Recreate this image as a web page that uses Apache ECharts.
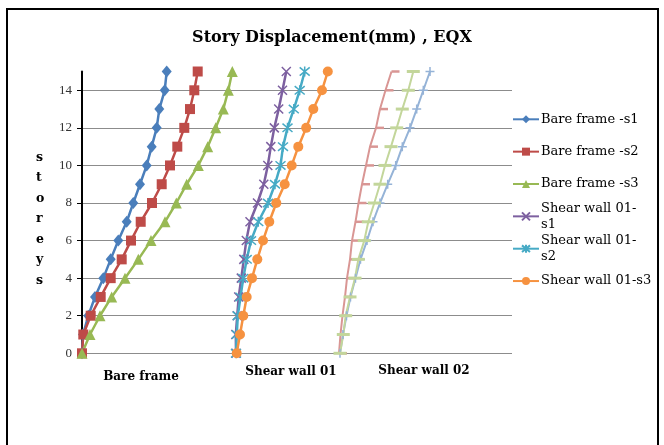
<!DOCTYPE html>
<html>
<head>
<meta charset="utf-8">
<script src="https://cdn.jsdelivr.net/npm/echarts@6/dist/echarts.min.js"></script>
<style>
  html, body { margin: 0; padding: 0; background: #fff; }
  #chart { width: 664px; height: 445px; }
</style>
</head>
<body>
<div id="chart"></div>
<script>
// Storey levels (0 = base, 15 = roof)
const storeys = [0, 1, 2, 3, 4, 5, 6, 7, 8, 9, 10, 11, 12, 13, 14, 15];
const yTicks = [0, 2, 4, 6, 8, 10, 12, 14];

// Horizontal displacement of each storey, per model (each group plotted side by side)
const bareS1 = [0, 0.1, 0.63, 1.3, 2.13, 2.87, 3.63, 4.47, 5.13, 5.8, 6.47, 6.97, 7.47, 7.73, 8.27, 8.47];
const bareS2 = [0, 0.13, 0.87, 1.87, 2.87, 3.97, 4.9, 5.87, 7.0, 7.97, 8.8, 9.53, 10.23, 10.8, 11.23, 11.57];
const bareS3 = [0, 0.8, 1.8, 2.97, 4.3, 5.63, 6.9, 8.3, 9.43, 10.47, 11.63, 12.57, 13.37, 14.13, 14.63, 15.03];

const sw1S1 = [15.4, 15.38, 15.52, 15.67, 15.93, 16.18, 16.43, 16.8, 17.55, 18.18, 18.58, 18.88, 19.23, 19.67, 20.05, 20.43];
const sw1S2 = [15.4, 15.48, 15.58, 15.85, 16.13, 16.47, 16.9, 17.63, 18.6, 19.3, 19.85, 20.1, 20.55, 21.18, 21.77, 22.27];
const sw1S3 = [15.47, 15.8, 16.13, 16.47, 17.0, 17.53, 18.1, 18.73, 19.43, 20.27, 20.97, 21.63, 22.42, 23.13, 24.0, 24.58];

const sw2S1 = [25.8, 26.1, 26.45, 26.85, 27.35, 27.85, 28.5, 29.1, 29.8, 30.57, 31.37, 32.03, 32.8, 33.47, 34.13, 34.8];
const sw2S2 = [25.7, 25.85, 26.05, 26.3, 26.5, 26.8, 27.0, 27.35, 27.65, 28.0, 28.4, 28.8, 29.4, 29.8, 30.35, 30.95];
const sw2S3 = [25.8, 26.13, 26.37, 26.8, 27.3, 27.63, 28.23, 28.63, 29.23, 29.8, 30.3, 30.9, 31.47, 32.03, 32.63, 33.13];

const groupLabels = ['Bare frame', 'Shear wall 01', 'Shear wall 02'];
const legendNames = ['Bare frame -s1', 'Bare frame -s2', 'Bare frame -s3',
                     'Shear wall 01-s1', 'Shear wall 01-s2', 'Shear wall 01-s3'];
const legendText = {
  'Shear wall 01-s1': 'Shear wall 01-\ns1',
  'Shear wall 01-s2': 'Shear wall 01-\ns2'
};

const serif = '"DejaVu Serif", "Liberation Serif", serif';
const serifNarrow = '"Liberation Serif", serif';

const SYM_X = 'path://M0,0L10,10M10,0L0,10';
const SYM_STAR = 'path://M0,0L10,10M10,0L0,10M5,-1L5,11';
const SYM_PLUS = 'path://M5,0L5,10M0,5L10,5';

function pairs(xs) {
  return xs.map((x, i) => [x, storeys[i]]);
}

function series(name, xs, color, symbol, size, extra) {
  return Object.assign({
    name: name,
    type: 'line',
    data: pairs(xs),
    symbol: symbol,
    symbolSize: size,
    showAllSymbol: true,
    lineStyle: { color: color, width: 2.5 },
    itemStyle: { color: color, borderColor: color, borderWidth: 0 },
    emphasis: { disabled: true },
    animation: false,
    z: 3
  }, extra || {});
}

// One legend block per entry, stacked at a fixed pitch; wrapped names keep
// their first line level with the key.
const legendPitch = 32.35;
const legends = legendNames.map((name, i) => {
  const wrapped = !!legendText[name];
  const iconCenter = 119.3 + i * legendPitch;
  return {
    orient: 'vertical',
    left: 512,
    top: iconCenter - (wrapped ? 24 : 8),
    padding: 0,
    itemWidth: 26,
    itemHeight: 10,
    data: [name],
    formatter: n => legendText[n] || n,
    textStyle: {
      fontFamily: serif, fontSize: 13, color: '#000', lineHeight: 16,
      padding: wrapped ? [16, 0, 0, -3] : [0, 0, 0, -3]
    }
  };
});

const chart = echarts.init(document.getElementById('chart'), null, { renderer: 'canvas' });

chart.setOption({
  backgroundColor: '#ffffff',
  animation: false,
  title: {
    text: 'Story Displacement(mm) , EQX',
    left: 'center',
    top: 25,
    textStyle: { fontFamily: serif, fontSize: 16, fontWeight: 'bold', color: '#000' }
  },
  grid: { left: 82, right: 152, top: 71.5, bottom: 91.7 },
  xAxis: {
    type: 'value',
    min: 0,
    max: 43,
    axisLine: { show: false },
    axisTick: { show: false },
    axisLabel: { show: false },
    splitLine: { show: false }
  },
  yAxis: {
    type: 'value',
    min: 0,
    max: 15,
    interval: 1,
    axisLine: { show: true, lineStyle: { color: '#000', width: 2 } },
    axisTick: { show: true, length: 5, customValues: yTicks, lineStyle: { color: '#000', width: 1 } },
    axisLabel: {
      customValues: yTicks,
      margin: 10,
      fontFamily: serifNarrow,
      fontSize: 13,
      color: '#333'
    },
    splitLine: { show: true, lineStyle: { color: '#8c8c8c', width: 1 } }
  },
  legend: legends,
  graphic: [
    {
      type: 'rect',
      shape: { x: 7, y: 9, width: 651, height: 450 },
      style: { fill: 'none', stroke: '#000', lineWidth: 2 },
      silent: true
    },
    {
      type: 'text',
      left: 36,
      top: 147,
      style: {
        text: 's\nt\no\nr\ne\ny\ns',
        fontFamily: serif, fontSize: 12.5, fontWeight: 'bold', lineHeight: 20.5, fill: '#000', align: 'center'
      }
    },
    {
      type: 'text', x: 141, y: 377,
      style: { text: groupLabels[0], fontFamily: serif, fontSize: 12, fontWeight: 'bold', fill: '#000', align: 'center', verticalAlign: 'middle' }
    },
    {
      type: 'text', x: 291, y: 372,
      style: { text: groupLabels[1], fontFamily: serif, fontSize: 12, fontWeight: 'bold', fill: '#000', align: 'center', verticalAlign: 'middle' }
    },
    {
      type: 'text', x: 424, y: 371,
      style: { text: groupLabels[2], fontFamily: serif, fontSize: 12, fontWeight: 'bold', fill: '#000', align: 'center', verticalAlign: 'middle' }
    }
  ],
  series: [
    series('Bare frame -s1', bareS1, '#4A7EBB', 'diamond', [10, 12]),
    series('Bare frame -s2', bareS2, '#BE4B48', 'rect', 10),
    series('Bare frame -s3', bareS3, '#98B954', 'triangle', 11),
    series('Shear wall 01-s1', sw1S1, '#7D60A0', SYM_X, 9,
      { itemStyle: { color: '#7D60A0', borderColor: '#7D60A0', borderWidth: 1.5 } }),
    series('Shear wall 01-s2', sw1S2, '#46AAC5', SYM_STAR, 10,
      { itemStyle: { color: '#46AAC5', borderColor: '#46AAC5', borderWidth: 1.5 } }),
    series('Shear wall 01-s3', sw1S3, '#F69240', 'circle', 10),
    series('Shear wall 02-s1', sw2S1, '#95B3D7', SYM_PLUS, 9,
      { lineStyle: { color: '#95B3D7', width: 2 },
        itemStyle: { color: '#95B3D7', borderColor: '#95B3D7', borderWidth: 1.5 } }),
    series('Shear wall 02-s2', sw2S2, '#D99694', 'rect', [8, 2.5],
      { symbolOffset: [4, 0], lineStyle: { color: '#D99694', width: 2 } }),
    series('Shear wall 02-s3', sw2S3, '#C3D69B', 'rect', [13, 3],
      { lineStyle: { color: '#C3D69B', width: 2 } })
  ]
});
</script>
</body>
</html>
